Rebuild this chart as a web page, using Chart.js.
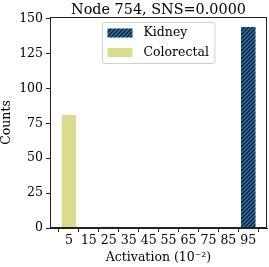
<!DOCTYPE html>
<html><head><meta charset="utf-8">
<script src="https://cdn.jsdelivr.net/npm/chart.js@4/dist/chart.umd.min.js"></script>
<style>html,body{margin:0;padding:0;background:#fff}</style>
</head><body><canvas id="c" width="269" height="267"></canvas>
<script>
const binCenters = [5, 15, 25, 35, 45, 55, 65, 75, 85, 95];
const xTickLabels = ['5', '15', '25', '35', '45', '55', '65', '75', '85', '95'];
const kidneyCounts = [0, 0, 0, 0, 0, 0, 0, 0, 0, 144];
const colorectalCounts = [81, 0, 1, 0, 0, 0, 0, 0, 0, 0];
const yTicks = [0, 25, 50, 75, 100, 125, 150];
const yTickLabels = ['0', '25', '50', '75', '100', '125', '150'];
const seriesNames = ['Kidney', 'Colorectal'];
const titleText = 'Node 754, SNS=0.0000';
const xTitle = 'Activation (10\u207B\u00B2)';
const yTitle = 'Counts';

const FONT = "'DejaVu Serif', serif";
const BLUE = '#1f77b4';
const OLIVE = '#dbdb8d';

const canvas = document.getElementById('c');
const rawCtx = canvas.getContext('2d');

function hatch() {
  const s = 4;
  const c = document.createElement('canvas');
  c.width = s; c.height = s;
  const g = c.getContext('2d');
  g.fillStyle = BLUE; g.fillRect(0, 0, s, s);
  g.strokeStyle = '#000'; g.lineWidth = 1.1;
  g.beginPath();
  g.moveTo(-1, s + 1); g.lineTo(s + 1, -1);
  g.moveTo(-1, 1); g.lineTo(1, -1);
  g.moveTo(s - 1, s + 1); g.lineTo(s + 1, s - 1);
  g.stroke();
  return rawCtx.createPattern(c, 'repeat');
}
const kidneyFill = hatch();

const framePlugin = {
  id: 'axesFrame',
  afterDatasetsDraw(chart) {
    const a = chart.chartArea, ctx = chart.ctx;
    ctx.save();
    ctx.strokeStyle = '#222'; ctx.lineWidth = 1;
    ctx.strokeRect(Math.round(a.left) + 0.5, Math.round(a.top) + 0.5,
      Math.round(a.right - a.left) - 1, Math.round(a.bottom - a.top) - 1);
    ctx.restore();
  }
};

// axis labels and titles, placed through the chart's own scales
const textPlugin = {
  id: 'mplText',
  afterDraw(chart) {
    const a = chart.chartArea, ctx = chart.ctx;
    const xs = chart.scales.x, ys = chart.scales.y;
    const cx = (a.left + a.right) / 2;
    ctx.save();
    ctx.fillStyle = '#000';
    // title
    ctx.font = '14.4px ' + FONT;
    ctx.textAlign = 'center'; ctx.textBaseline = 'alphabetic';
    ctx.fillText(titleText, cx, 13.5);
    // x tick labels
    ctx.font = '12.5px ' + FONT;
    ctx.textAlign = 'center'; ctx.textBaseline = 'top';
    binCenters.forEach((v, i) => ctx.fillText(xTickLabels[i], xs.getPixelForValue(v), a.bottom + 6));
    // y tick labels
    ctx.textAlign = 'right'; ctx.textBaseline = 'middle';
    yTicks.forEach((v, i) => ctx.fillText(yTickLabels[i], a.left - 7, ys.getPixelForValue(v)));
    // x title
    ctx.textAlign = 'center'; ctx.textBaseline = 'middle';
    ctx.fillText(xTitle, cx, 257.5);
    // y title
    ctx.save();
    ctx.translate(7, (a.top + a.bottom) / 2);
    ctx.rotate(-Math.PI / 2);
    ctx.textAlign = 'center'; ctx.textBaseline = 'middle';
    ctx.fillText(yTitle, 0, 0);
    ctx.restore();
    ctx.restore();
  }
};

const legendPlugin = {
  id: 'mplLegend',
  afterDraw(chart) {
    const a = chart.chartArea, ctx = chart.ctx;
    ctx.save();
    ctx.font = '12.5px ' + FONT;
    const fills = chart.data.datasets.map(d => d.backgroundColor);
    const names = chart.data.datasets.map(d => d.label);
    const tw = Math.max(...names.map(n => ctx.measureText(n).width));
    const padL = 5, patchW = 25, gap = 11, padR = 6;
    const w = padL + patchW + gap + tw + padR;
    const h = 41, r = 2;
    const cx = (a.left + a.right) / 2;
    const x0 = Math.round(cx - w / 2) + 0.5;
    const y0 = Math.round(a.top + 5) + 0.5;
    ctx.fillStyle = 'rgba(255,255,255,0.8)';
    ctx.strokeStyle = '#d0d0d0';
    ctx.lineWidth = 1;
    ctx.beginPath();
    ctx.moveTo(x0 + r, y0);
    ctx.arcTo(x0 + w, y0, x0 + w, y0 + h, r);
    ctx.arcTo(x0 + w, y0 + h, x0, y0 + h, r);
    ctx.arcTo(x0, y0 + h, x0, y0, r);
    ctx.arcTo(x0, y0, x0 + w, y0, r);
    ctx.closePath();
    ctx.fill(); ctx.stroke();
    const rows = [y0 + 10.5, y0 + 30];
    names.forEach((n, i) => {
      const yc = rows[i];
      ctx.fillStyle = fills[i];
      ctx.fillRect(x0 + padL, yc - 4.5, patchW, 9);
      ctx.fillStyle = '#000';
      ctx.textBaseline = 'middle';
      ctx.textAlign = 'left';
      ctx.fillText(n, x0 + padL + patchW + gap, yc);
    });
    ctx.restore();
  }
};

new Chart(canvas, {
  type: 'bar',
  data: {
    datasets: [
      { label: seriesNames[0], data: binCenters.map((x, i) => ({ x, y: kidneyCounts[i] })),
        backgroundColor: kidneyFill, borderWidth: 0 },
      { label: seriesNames[1], data: binCenters.map((x, i) => ({ x, y: colorectalCounts[i] })),
        backgroundColor: OLIVE, borderWidth: 0 }
    ]
  },
  options: {
    responsive: false,
    animation: false,
    devicePixelRatio: 1,
    grouped: false,
    barPercentage: 0.73,
    categoryPercentage: 1,
    layout: { padding: { left: 0, right: 2, top: 17, bottom: 0 } },
    plugins: {
      legend: { display: false },
      tooltip: { enabled: false },
      title: { display: false }
    },
    scales: {
      x: {
        type: 'linear', min: -4.5, max: 104.4, offset: false,
        afterBuildTicks: s => { s.ticks = binCenters.map(v => ({ value: v })); },
        afterFit: s => { s.height = 39; },
        ticks: { display: false },
        grid: { drawOnChartArea: false, drawTicks: true, tickLength: 4, color: '#222' },
        border: { display: true, color: '#222' },
        title: { display: false }
      },
      y: {
        type: 'linear', min: 0, max: 151.2,
        afterBuildTicks: s => { s.ticks = yTicks.map(v => ({ value: v })); },
        afterFit: s => { s.width = 50; },
        ticks: { display: false },
        grid: { drawOnChartArea: false, drawTicks: true, tickLength: 4, color: '#222' },
        border: { display: true, color: '#222' },
        title: { display: false }
      }
    }
  },
  plugins: [framePlugin, textPlugin, legendPlugin]
});
</script></body></html>
